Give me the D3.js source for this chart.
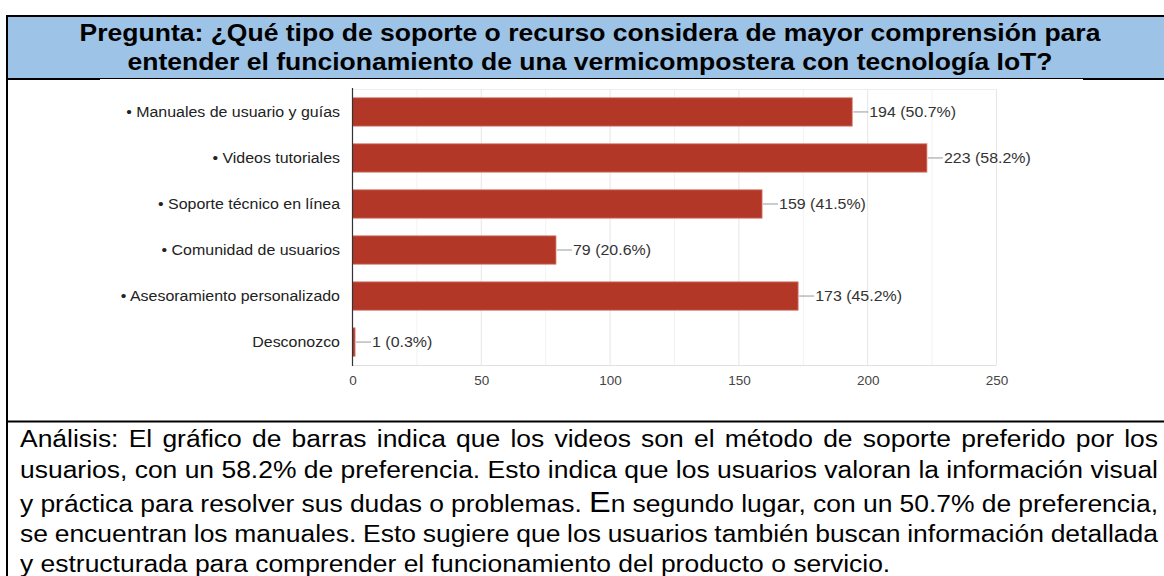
<!DOCTYPE html>
<html lang="es">
<head>
  <meta charset="UTF-8" />
  <title>Soporte preferido - vermicompostera IoT</title>
  <script src="https://cdn.jsdelivr.net/npm/d3@7/dist/d3.min.js"></script>
  <style>
    html, body { margin: 0; padding: 0; background: #fff; }
    svg { display: block; font-family: "Liberation Sans", Arial, sans-serif; }
  </style>
</head>
<body>
  <div id="viz"></div>

  <script>
  // Datos
  const categories = [
    '• Manuales de usuario y guías',
    '• Videos tutoriales',
    '• Soporte técnico en línea',
    '• Comunidad de usuarios',
    '• Asesoramiento personalizado',
    'Desconozco'
  ];
  const counts   = [194, 223, 159, 79, 173, 1];
  const percents = ['50.7%', '58.2%', '41.5%', '20.6%', '45.2%', '0.3%'];
  const xTicks   = [0, 50, 100, 150, 200, 250];

  const titleLines = [
    'Pregunta: ¿Qué tipo de soporte o recurso considera de mayor comprensión para',
    'entender el funcionamiento de una vermicompostera con tecnología IoT?'
  ];
  const analysisLines = [
    'Análisis: El gráfico de barras indica que los videos son el método de soporte preferido por los',
    'usuarios, con un 58.2% de preferencia. Esto indica que los usuarios valoran la información visual',
    'y práctica para resolver sus dudas o problemas. En segundo lugar, con un 50.7% de preferencia,',
    'se encuentran los manuales. Esto sugiere que los usuarios también buscan información detallada',
    'y estructurada para comprender el funcionamiento del producto o servicio.'
  ];

  function drawViz() {
    const W = 1164, H = 576;
    const svg = d3.select('#viz').append('svg')
      .attr('width', W).attr('height', H);

    // la imagen original está algo estirada en horizontal
    const stretch = 1.1;

    // Cabecera azul con bordes de tabla
    svg.append('rect').attr('x', 8).attr('y', 17).attr('width', W - 8).attr('height', 61)
      .attr('fill', '#9dc3e6');
    svg.append('rect').attr('x', 6).attr('y', 15).attr('width', W - 6).attr('height', 2).attr('fill', '#000');
    svg.append('rect').attr('x', 6).attr('y', 15).attr('width', 2).attr('height', H - 15).attr('fill', '#000');
    svg.append('rect').attr('x', 6).attr('y', 78).attr('width', W - 6).attr('height', 2).attr('fill', '#000');
    // la imagen del gráfico tapa parte del borde
    svg.append('rect').attr('x', 100).attr('y', 79).attr('width', 983).attr('height', 2).attr('fill', '#fff');
    svg.append('rect').attr('x', 6).attr('y', 420.5).attr('width', W - 6).attr('height', 2).attr('fill', '#000');

    svg.append('g').selectAll('text')
      .data(titleLines)
      .join('text')
        .attr('transform', (d, i) => `translate(590,${40.5 + i * 29.5}) scale(1.105,1)`)
        .attr('text-anchor', 'middle')
        .attr('font-size', 24)
        .attr('font-weight', 'bold')
        .attr('fill', '#000')
        .text(d => d);

    // Escalas
    const x = d3.scaleLinear().domain([0, 250]).range([352.5, 996.5]);
    const y = d3.scaleBand().domain(categories).range([89, 365])
      .paddingInner(0.383).paddingOuter(0.19);

    const chart = svg.append('g');

    // Rejilla menor y mayor
    const minor = d3.range(25, 250, 50);
    chart.append('g').selectAll('line')
      .data(minor)
      .join('line')
        .attr('x1', d => x(d)).attr('x2', d => x(d))
        .attr('y1', 89).attr('y2', 365)
        .attr('stroke', '#f2f2f2');
    chart.append('g').selectAll('line')
      .data(xTicks.slice(1))
      .join('line')
        .attr('x1', d => x(d)).attr('x2', d => x(d))
        .attr('y1', 89).attr('y2', 365)
        .attr('stroke', '#e6e6e6');
    chart.append('line')
      .attr('x1', x(0)).attr('x2', x(250)).attr('y1', 89.5).attr('y2', 89.5)
      .attr('stroke', '#eeeeee');
    chart.append('line')
      .attr('x1', x(0)).attr('x2', x(250)).attr('y1', 365.5).attr('y2', 365.5)
      .attr('stroke', '#e0e0e0');

    // Barras
    chart.append('g').selectAll('rect')
      .data(categories)
      .join('rect')
        .attr('x', x(0))
        .attr('y', d => y(d))
        .attr('width', (d, i) => x(counts[i]) - x(0))
        .attr('height', y.bandwidth())
        .attr('fill', '#b33727')
        .attr('stroke', '#d9847a')
        .attr('stroke-width', 0.8);

    // Eje vertical
    chart.append('line')
      .attr('x1', x(0)).attr('x2', x(0)).attr('y1', 88).attr('y2', 366)
      .attr('stroke', '#333').attr('stroke-width', 1.2);

    // Etiquetas de valor con línea guía
    const lab = chart.append('g').selectAll('g')
      .data(categories)
      .join('g')
        .attr('transform', (d, i) => `translate(${x(counts[i])},${y(d) + y.bandwidth() / 2})`);
    lab.append('line')
      .attr('x1', 1).attr('x2', 16).attr('y1', 0).attr('y2', 0)
      .attr('stroke', '#999');
    lab.append('text')
      .attr('transform', `translate(17,0) scale(${stretch},1)`)
      .attr('dy', '0.36em')
      .attr('font-size', 14.5)
      .attr('fill', '#333')
      .text((d, i) => `${counts[i]} (${percents[i]})`);

    // Categorías
    chart.append('g').selectAll('text')
      .data(categories)
      .join('text')
        .attr('transform', d => `translate(340,${y(d) + y.bandwidth() / 2}) scale(${stretch},1)`)
        .attr('dy', '0.36em')
        .attr('text-anchor', 'end')
        .attr('font-size', 14.5)
        .attr('fill', '#222')
        .text(d => d);

    // Eje inferior
    const xAxis = chart.append('g')
      .attr('transform', 'translate(0,365)')
      .call(d3.axisBottom(x).tickValues(xTicks).tickSize(0).tickPadding(10));
    xAxis.select('.domain').remove();
    xAxis.selectAll('text')
      .attr('font-size', 13.5)
      .attr('font-family', '"Liberation Sans", Arial, sans-serif')
      .attr('fill', '#444');

    // Texto de análisis justificado
    const left = 20, right = 1158, sx = 1.08;
    const baselines = [447, 478, 512, 542, 572];
    analysisLines.forEach((line, i) => {
      const t = svg.append('text')
        .attr('transform', `translate(${left},${baselines[i]}) scale(${sx},1)`)
        .attr('font-size', 24.5)
        .attr('fill', '#000');
      if (i === 2) {
        const k = line.indexOf('En segundo');
        t.append('tspan').text(line.slice(0, k));
        t.append('tspan').attr('font-size', 30).text('E');
        t.append('tspan').text(line.slice(k + 1));
      } else {
        t.text(line);
      }
      if (i < analysisLines.length - 1) {
        const natural = t.node().getComputedTextLength();
        const spaces = (line.match(/ /g) || []).length;
        const extra = ((right - left) / sx - natural) / spaces;
        t.attr('word-spacing', extra);
      }
    });
  }

  document.addEventListener('DOMContentLoaded', () => {
    drawViz();
  });
  </script>
</body>
</html>
